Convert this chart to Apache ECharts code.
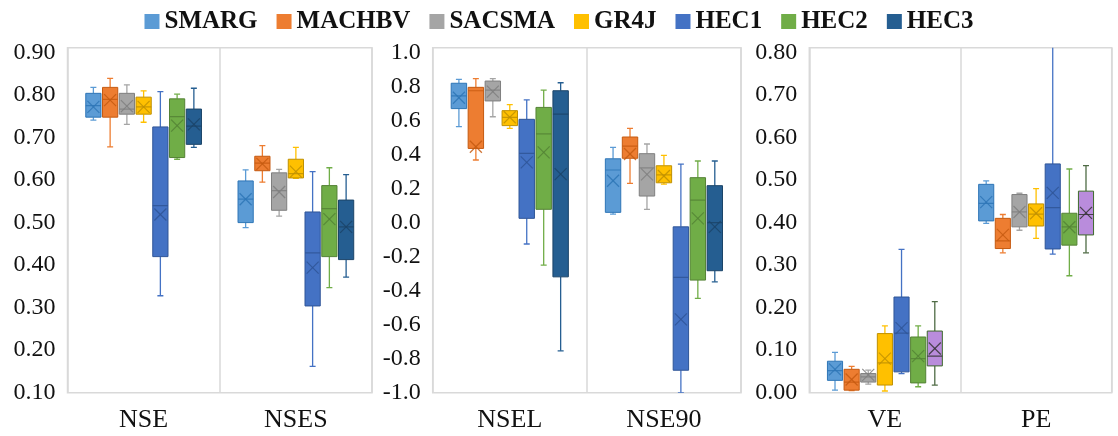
<!DOCTYPE html>
<html>
<head>
<meta charset="utf-8">
<script src="https://cdn.jsdelivr.net/npm/echarts@6/dist/echarts.min.js"></script>
<style>
  html, body { margin: 0; padding: 0; background: #fff; }
  #main { width: 1118px; height: 436px; }
</style>
</head>
<body>
<div id="main"></div>
<script>
// models and metric names
var models = ['SMARG', 'MACHBV', 'SACSMA', 'GR4J', 'HEC1', 'HEC2', 'HEC3'];
var panelCats = [['NSE', 'NSES'], ['NSEL', 'NSE90'], ['VE', 'PE']];

// each row: [low, q1, median, q3, high, mean], one row per model
var NSE = [
  [0.741, 0.748, 0.775, 0.804, 0.818, 0.772],
  [0.678, 0.748, 0.790, 0.818, 0.839, 0.788],
  [0.731, 0.755, 0.767, 0.804, 0.824, 0.774],
  [0.736, 0.755, 0.772, 0.795, 0.810, 0.772],
  [0.328, 0.420, 0.540, 0.725, 0.808, 0.519],
  [0.649, 0.653, 0.749, 0.791, 0.802, 0.728],
  [0.677, 0.684, 0.727, 0.767, 0.816, 0.731]
];
var NSES = [
  [0.488, 0.500, 0.555, 0.598, 0.624, 0.555],
  [0.595, 0.622, 0.640, 0.656, 0.681, 0.638],
  [0.515, 0.529, 0.575, 0.617, 0.625, 0.572],
  [0.604, 0.605, 0.615, 0.649, 0.677, 0.620],
  [0.162, 0.304, 0.429, 0.525, 0.620, 0.394],
  [0.347, 0.420, 0.533, 0.587, 0.629, 0.508],
  [0.372, 0.413, 0.490, 0.553, 0.613, 0.490]
];
var NSEL = [
  [0.564, 0.670, 0.745, 0.819, 0.842, 0.734],
  [0.368, 0.436, 0.775, 0.795, 0.846, 0.446],
  [0.622, 0.715, 0.779, 0.832, 0.846, 0.770],
  [0.554, 0.570, 0.619, 0.658, 0.693, 0.619],
  [-0.126, 0.025, 0.407, 0.607, 0.721, 0.354],
  [-0.250, 0.078, 0.521, 0.677, 0.779, 0.413],
  [-0.754, -0.319, 0.638, 0.775, 0.822, 0.285]
];
var NSE90 = [
  [0.050, 0.060, 0.309, 0.375, 0.442, 0.246],
  [0.230, 0.378, 0.450, 0.503, 0.554, 0.403],
  [0.078, 0.156, 0.322, 0.405, 0.462, 0.283],
  [0.226, 0.234, 0.280, 0.334, 0.395, 0.274],
  [-1.000, -0.868, -0.322, -0.025, 0.344, -0.569],
  [-0.446, -0.338, 0.132, 0.264, 0.362, 0.025],
  [-0.348, -0.283, 0.000, 0.217, 0.362, -0.025]
];
var VE = [
  [0.006, 0.029, 0.052, 0.074, 0.095, 0.055],
  [0.005, 0.006, 0.025, 0.055, 0.062, 0.031],
  [0.020, 0.025, 0.037, 0.045, 0.053, 0.042],
  [0.004, 0.018, 0.070, 0.139, 0.157, 0.080],
  [0.045, 0.049, 0.140, 0.225, 0.337, 0.152],
  [0.014, 0.023, 0.080, 0.131, 0.157, 0.086],
  [0.018, 0.063, 0.086, 0.145, 0.214, 0.104]
];
var PE = [
  [0.398, 0.404, 0.445, 0.490, 0.498, 0.448],
  [0.329, 0.339, 0.357, 0.410, 0.419, 0.371],
  [0.382, 0.390, 0.425, 0.466, 0.469, 0.425],
  [0.363, 0.392, 0.420, 0.444, 0.480, 0.422],
  [0.326, 0.338, 0.435, 0.538, 0.850, 0.470],
  [0.275, 0.347, 0.390, 0.422, 0.526, 0.389],
  [0.329, 0.371, 0.419, 0.474, 0.534, 0.423]
];
var panelData = [[NSE, NSES], [NSEL, NSE90], [VE, PE]];

// y axis ranges per panel
var yMin = [0.1, -1.0, 0.0];
var yMax = [0.9113, 1.028, 0.8113];
var yStep = [0.1, 0.2, 0.1];
var yDigits = [2, 1, 2];

// fill / outline / whisker colours
var fills = ['#5B9BD5', '#ED7D31', '#A5A5A5', '#FFC000', '#4472C4', '#70AD47', '#255E91'];
var edges = ['#2E75B6', '#C55A11', '#7F7F7F', '#BF9000', '#2F5597', '#548235', '#1B4468'];
// last box of the VE/PE panel is drawn purple in the original
var purple = { fill: '#B98CDC', edge: '#3E6B2C', whisker: '#4F6B45', mark: '#333333' };

var FONT = 'Liberation Serif';

var grids = [
  { left: 67.5, top: 47.7, width: 304.5, height: 345 },
  { left: 432.7, top: 47.7, width: 308.3, height: 345 },
  { left: 809.3, top: 47.7, width: 302.4, height: 345 }
];

function makeRender(k, st) {
  return function (params, api) {
    var cat = api.value(0);
    var band = api.size([1, 0])[0];
    var w = band * 0.1;
    var cx = api.coord([cat, 0])[0] + (k - 3) * band * 0.11;
    var Y = function (i) { return api.coord([cat, api.value(i)])[1]; };
    var lo = Y(1), q1 = Y(2), md = Y(3), q3 = Y(4), hi = Y(5), mn = Y(6);
    var cap = 3;
    var m = 6;
    var ws = { stroke: st.whisker, lineWidth: 1.3 };
    var ms = { stroke: st.mark, lineWidth: 1.2, opacity: 0.85 };
    return {
      type: 'group',
      children: [
        { type: 'line', shape: { x1: cx, y1: hi, x2: cx, y2: q3 }, style: ws },
        { type: 'line', shape: { x1: cx, y1: q1, x2: cx, y2: lo }, style: ws },
        { type: 'line', shape: { x1: cx - cap, y1: hi, x2: cx + cap, y2: hi }, style: ws },
        { type: 'line', shape: { x1: cx - cap, y1: lo, x2: cx + cap, y2: lo }, style: ws },
        { type: 'rect', shape: { x: cx - w / 2, y: q3, width: w, height: q1 - q3 },
          style: { fill: st.fill, stroke: st.edge, lineWidth: 1 } },
        { type: 'line', shape: { x1: cx - w / 2, y1: md, x2: cx + w / 2, y2: md }, style: ms },
        { type: 'line', shape: { x1: cx - m, y1: mn - m, x2: cx + m, y2: mn + m }, style: ms },
        { type: 'line', shape: { x1: cx - m, y1: mn + m, x2: cx + m, y2: mn - m }, style: ms }
      ]
    };
  };
}

var xAxes = [], yAxes = [], series = [];
for (var p = 0; p < 3; p++) {
  xAxes.push({
    type: 'category', gridIndex: p, data: panelCats[p],
    axisLine: { show: false }, axisTick: { show: false },
    splitLine: { show: true, lineStyle: { color: '#D9D9D9', width: 1.5 } },
    axisLabel: { fontFamily: FONT, fontSize: 26, color: '#111', margin: 14 }
  });
  (function (p) {
    yAxes.push({
      type: 'value', gridIndex: p, min: yMin[p], max: yMax[p], interval: yStep[p],
      axisLine: { show: false }, axisTick: { show: false }, splitLine: { show: false },
      axisLabel: {
        fontFamily: FONT, fontSize: 24, color: '#111', margin: 12,
        formatter: function (v) {
          var r = v / yStep[p];
          if (Math.abs(r - Math.round(r)) > 1e-6) return '';
          return v.toFixed(yDigits[p]);
        }
      }
    });
  })(p);
  for (var k = 0; k < models.length; k++) {
    var st = { fill: fills[k], edge: edges[k], whisker: fills[k], mark: edges[k] };
    if (p === 2 && k === 6) st = purple;
    var rows = [];
    for (var c = 0; c < 2; c++) {
      rows.push([c].concat(panelData[p][c][k]));
    }
    series.push({
      name: models[k], type: 'custom', xAxisIndex: p, yAxisIndex: p,
      clip: true, itemStyle: { color: fills[k] },
      encode: { x: 0, y: [1, 2, 3, 4, 5] },
      renderItem: makeRender(k, st),
      data: rows
    });
  }
}

var myChart = echarts.init(document.getElementById('main'));
myChart.setOption({
  animation: false,
  backgroundColor: '#fff',
  color: fills,
  legend: {
    data: models, top: 4, left: 'center',
    icon: 'rect', itemWidth: 15, itemHeight: 15, itemGap: 19,
    textStyle: { fontFamily: FONT, fontWeight: 'bold', fontSize: 25, color: '#111' }
  },
  grid: grids.map(function (g) {
    return { left: g.left, top: g.top, width: g.width, height: g.height,
      show: true, borderColor: '#D9D9D9', borderWidth: 1.5, backgroundColor: 'transparent' };
  }),
  xAxis: xAxes,
  yAxis: yAxes,
  series: series
});
</script>
</body>
</html>
